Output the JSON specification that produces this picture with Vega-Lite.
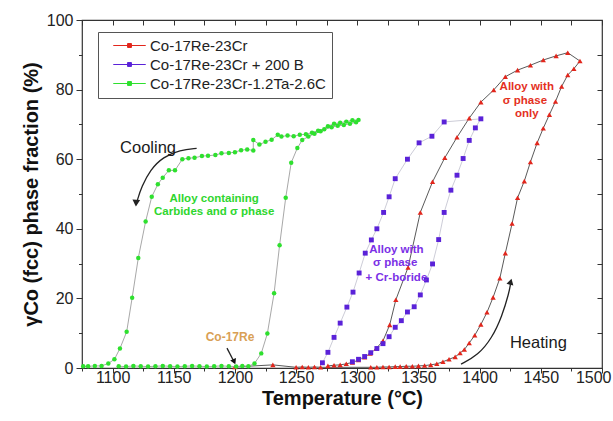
{
 "$schema": "https://vega.github.io/schema/vega-lite/v6.json",
 "width": 520, "height": 348,
 "autosize": {"type": "none"},
 "padding": {"left": 82, "top": 20, "right": 11, "bottom": 53},
 "background": "white",
 "config": {"view": {"stroke": "#333", "strokeWidth": 1.2}, "font": "Liberation Sans", "axis": {"grid": false}},
 "datasets": {
  "pts": [
   {"s":"Co-17Re-23Cr","o":1,"T":1200,"f":0.3},{"s":"Co-17Re-23Cr","o":2,"T":1231,"f":0.9},{"s":"Co-17Re-23Cr","o":3,"T":1250,"f":0.2},{"s":"Co-17Re-23Cr","o":4,"T":1255,"f":0.3},{"s":"Co-17Re-23Cr","o":5,"T":1260,"f":0.2},{"s":"Co-17Re-23Cr","o":6,"T":1265,"f":0.3},{"s":"Co-17Re-23Cr","o":7,"T":1270,"f":0.2},{"s":"Co-17Re-23Cr","o":8,"T":1311,"f":0.2},{"s":"Co-17Re-23Cr","o":9,"T":1316,"f":0.2},{"s":"Co-17Re-23Cr","o":10,"T":1321,"f":0.3},{"s":"Co-17Re-23Cr","o":11,"T":1326,"f":0.3},{"s":"Co-17Re-23Cr","o":12,"T":1331,"f":0.4},{"s":"Co-17Re-23Cr","o":13,"T":1335,"f":0.4},{"s":"Co-17Re-23Cr","o":14,"T":1340,"f":0.5},{"s":"Co-17Re-23Cr","o":15,"T":1345,"f":0.5},{"s":"Co-17Re-23Cr","o":16,"T":1350,"f":0.6},{"s":"Co-17Re-23Cr","o":17,"T":1355,"f":0.7},{"s":"Co-17Re-23Cr","o":18,"T":1360,"f":0.9},{"s":"Co-17Re-23Cr","o":19,"T":1365,"f":1.2},{"s":"Co-17Re-23Cr","o":20,"T":1370,"f":1.8},{"s":"Co-17Re-23Cr","o":21,"T":1375,"f":2.5},{"s":"Co-17Re-23Cr","o":22,"T":1380,"f":3.2},{"s":"Co-17Re-23Cr","o":23,"T":1384,"f":4.3},{"s":"Co-17Re-23Cr","o":24,"T":1387.5,"f":5.3},{"s":"Co-17Re-23Cr","o":25,"T":1391.5,"f":7.2},{"s":"Co-17Re-23Cr","o":26,"T":1396,"f":9.4},{"s":"Co-17Re-23Cr","o":27,"T":1401,"f":12.5},{"s":"Co-17Re-23Cr","o":28,"T":1406,"f":16},{"s":"Co-17Re-23Cr","o":29,"T":1411,"f":20.3},{"s":"Co-17Re-23Cr","o":30,"T":1416.5,"f":25.8},{"s":"Co-17Re-23Cr","o":31,"T":1421,"f":33},{"s":"Co-17Re-23Cr","o":32,"T":1426.5,"f":41.5},{"s":"Co-17Re-23Cr","o":33,"T":1431,"f":48.9},{"s":"Co-17Re-23Cr","o":34,"T":1436.5,"f":53.7},{"s":"Co-17Re-23Cr","o":35,"T":1441.5,"f":59.2},{"s":"Co-17Re-23Cr","o":36,"T":1447,"f":64.7},{"s":"Co-17Re-23Cr","o":37,"T":1452,"f":68.9},{"s":"Co-17Re-23Cr","o":38,"T":1457,"f":72.8},{"s":"Co-17Re-23Cr","o":39,"T":1462,"f":76.6},{"s":"Co-17Re-23Cr","o":40,"T":1467,"f":80.9},{"s":"Co-17Re-23Cr","o":41,"T":1472,"f":84.2},{"s":"Co-17Re-23Cr","o":42,"T":1477,"f":86},{"s":"Co-17Re-23Cr","o":43,"T":1482,"f":88.2},{"s":"Co-17Re-23Cr","o":44,"T":1472,"f":90.6},{"s":"Co-17Re-23Cr","o":45,"T":1462.5,"f":89.7},{"s":"Co-17Re-23Cr","o":46,"T":1452,"f":88.5},{"s":"Co-17Re-23Cr","o":47,"T":1441.5,"f":87},{"s":"Co-17Re-23Cr","o":48,"T":1431,"f":85.6},{"s":"Co-17Re-23Cr","o":49,"T":1421,"f":83.7},{"s":"Co-17Re-23Cr","o":50,"T":1411.5,"f":79.9},{"s":"Co-17Re-23Cr","o":51,"T":1401,"f":76.4},{"s":"Co-17Re-23Cr","o":52,"T":1391.5,"f":71.8},{"s":"Co-17Re-23Cr","o":53,"T":1381.5,"f":66.3},{"s":"Co-17Re-23Cr","o":54,"T":1371.5,"f":60.4},{"s":"Co-17Re-23Cr","o":55,"T":1361.5,"f":53.5},{"s":"Co-17Re-23Cr","o":56,"T":1351.5,"f":44.7},{"s":"Co-17Re-23Cr","o":57,"T":1341.5,"f":28.9},{"s":"Co-17Re-23Cr","o":58,"T":1331.5,"f":19.6},{"s":"Co-17Re-23Cr","o":59,"T":1326.5,"f":12.4},{"s":"Co-17Re-23Cr","o":60,"T":1321,"f":7.8},{"s":"Co-17Re-23Cr","o":61,"T":1315.5,"f":5.6},{"s":"Co-17Re-23Cr","o":62,"T":1310.5,"f":4.2},{"s":"Co-17Re-23Cr","o":63,"T":1306,"f":3.1},{"s":"Co-17Re-23Cr","o":64,"T":1301,"f":2.3},{"s":"Co-17Re-23Cr","o":65,"T":1296,"f":1.6},{"s":"Co-17Re-23Cr","o":66,"T":1291,"f":1.2},{"s":"Co-17Re-23Cr","o":67,"T":1286,"f":0.9},{"s":"Co-17Re-23Cr","o":68,"T":1281,"f":0.8},{"s":"Co-17Re-23Cr","o":69,"T":1276,"f":0.6},
   {"s":"Co-17Re-23Cr + 200 B","o":1,"T":1296,"f":1.8},{"s":"Co-17Re-23Cr + 200 B","o":2,"T":1301,"f":2.5},{"s":"Co-17Re-23Cr + 200 B","o":3,"T":1306,"f":3.3},{"s":"Co-17Re-23Cr + 200 B","o":4,"T":1311,"f":4.4},{"s":"Co-17Re-23Cr + 200 B","o":5,"T":1316,"f":5.6},{"s":"Co-17Re-23Cr + 200 B","o":6,"T":1321,"f":7},{"s":"Co-17Re-23Cr + 200 B","o":7,"T":1326,"f":9},{"s":"Co-17Re-23Cr + 200 B","o":8,"T":1331,"f":11.7},{"s":"Co-17Re-23Cr + 200 B","o":9,"T":1336,"f":13.6},{"s":"Co-17Re-23Cr + 200 B","o":10,"T":1341,"f":16.1},{"s":"Co-17Re-23Cr + 200 B","o":11,"T":1346.5,"f":17.6},{"s":"Co-17Re-23Cr + 200 B","o":12,"T":1351.5,"f":21},{"s":"Co-17Re-23Cr + 200 B","o":13,"T":1356.5,"f":25.3},{"s":"Co-17Re-23Cr + 200 B","o":14,"T":1361.5,"f":29.9},{"s":"Co-17Re-23Cr + 200 B","o":15,"T":1366.5,"f":36.9},{"s":"Co-17Re-23Cr + 200 B","o":16,"T":1371,"f":44.7},{"s":"Co-17Re-23Cr + 200 B","o":17,"T":1376.5,"f":51.1},{"s":"Co-17Re-23Cr + 200 B","o":18,"T":1381.5,"f":55.4},{"s":"Co-17Re-23Cr + 200 B","o":19,"T":1386.5,"f":60.2},{"s":"Co-17Re-23Cr + 200 B","o":20,"T":1391.5,"f":65.4},{"s":"Co-17Re-23Cr + 200 B","o":21,"T":1396.5,"f":69},{"s":"Co-17Re-23Cr + 200 B","o":22,"T":1401,"f":71.6},{"s":"Co-17Re-23Cr + 200 B","o":23,"T":1371,"f":70.7},{"s":"Co-17Re-23Cr + 200 B","o":24,"T":1361,"f":66.6},{"s":"Co-17Re-23Cr + 200 B","o":25,"T":1350.5,"f":64.7},{"s":"Co-17Re-23Cr + 200 B","o":26,"T":1341,"f":60},{"s":"Co-17Re-23Cr + 200 B","o":27,"T":1331,"f":54.4},{"s":"Co-17Re-23Cr + 200 B","o":28,"T":1326,"f":49.2},{"s":"Co-17Re-23Cr + 200 B","o":29,"T":1321.5,"f":44.7},{"s":"Co-17Re-23Cr + 200 B","o":30,"T":1316,"f":40},{"s":"Co-17Re-23Cr + 200 B","o":31,"T":1311.5,"f":36.8},{"s":"Co-17Re-23Cr + 200 B","o":32,"T":1306.5,"f":33},{"s":"Co-17Re-23Cr + 200 B","o":33,"T":1301.5,"f":27.3},{"s":"Co-17Re-23Cr + 200 B","o":34,"T":1296.5,"f":21.8},{"s":"Co-17Re-23Cr + 200 B","o":35,"T":1291.5,"f":17.5},{"s":"Co-17Re-23Cr + 200 B","o":36,"T":1286,"f":12.9},{"s":"Co-17Re-23Cr + 200 B","o":37,"T":1281,"f":8.8},{"s":"Co-17Re-23Cr + 200 B","o":38,"T":1276,"f":4.5},{"s":"Co-17Re-23Cr + 200 B","o":39,"T":1271.5,"f":1.5},
   {"s":"Co-17Re-23Cr-1.2Ta-2.6C","o":1,"T":1105,"f":0.5},{"s":"Co-17Re-23Cr-1.2Ta-2.6C","o":2,"T":1111,"f":0.4},{"s":"Co-17Re-23Cr-1.2Ta-2.6C","o":3,"T":1117,"f":0.6},{"s":"Co-17Re-23Cr-1.2Ta-2.6C","o":4,"T":1123,"f":0.5},{"s":"Co-17Re-23Cr-1.2Ta-2.6C","o":5,"T":1129,"f":0.4},{"s":"Co-17Re-23Cr-1.2Ta-2.6C","o":6,"T":1135,"f":0.5},{"s":"Co-17Re-23Cr-1.2Ta-2.6C","o":7,"T":1141,"f":0.6},{"s":"Co-17Re-23Cr-1.2Ta-2.6C","o":8,"T":1147,"f":0.5},{"s":"Co-17Re-23Cr-1.2Ta-2.6C","o":9,"T":1153,"f":0.4},{"s":"Co-17Re-23Cr-1.2Ta-2.6C","o":10,"T":1159,"f":0.5},{"s":"Co-17Re-23Cr-1.2Ta-2.6C","o":11,"T":1165,"f":0.6},{"s":"Co-17Re-23Cr-1.2Ta-2.6C","o":12,"T":1171,"f":0.5},{"s":"Co-17Re-23Cr-1.2Ta-2.6C","o":13,"T":1177,"f":0.4},{"s":"Co-17Re-23Cr-1.2Ta-2.6C","o":14,"T":1183,"f":0.5},{"s":"Co-17Re-23Cr-1.2Ta-2.6C","o":15,"T":1189,"f":0.6},{"s":"Co-17Re-23Cr-1.2Ta-2.6C","o":16,"T":1195,"f":0.5},{"s":"Co-17Re-23Cr-1.2Ta-2.6C","o":17,"T":1201,"f":0.4},{"s":"Co-17Re-23Cr-1.2Ta-2.6C","o":18,"T":1206,"f":0.6},{"s":"Co-17Re-23Cr-1.2Ta-2.6C","o":19,"T":1211,"f":0.5},{"s":"Co-17Re-23Cr-1.2Ta-2.6C","o":20,"T":1216,"f":1.3},{"s":"Co-17Re-23Cr-1.2Ta-2.6C","o":21,"T":1221.5,"f":4.2},{"s":"Co-17Re-23Cr-1.2Ta-2.6C","o":22,"T":1226.5,"f":9.9},{"s":"Co-17Re-23Cr-1.2Ta-2.6C","o":23,"T":1232,"f":21.5},{"s":"Co-17Re-23Cr-1.2Ta-2.6C","o":24,"T":1236.5,"f":35.3},{"s":"Co-17Re-23Cr-1.2Ta-2.6C","o":25,"T":1241.5,"f":48.9},{"s":"Co-17Re-23Cr-1.2Ta-2.6C","o":26,"T":1246,"f":59},{"s":"Co-17Re-23Cr-1.2Ta-2.6C","o":27,"T":1251,"f":63.2},{"s":"Co-17Re-23Cr-1.2Ta-2.6C","o":28,"T":1255,"f":65.5},{"s":"Co-17Re-23Cr-1.2Ta-2.6C","o":29,"T":1260,"f":66.5},{"s":"Co-17Re-23Cr-1.2Ta-2.6C","o":30,"T":1265,"f":67.3},{"s":"Co-17Re-23Cr-1.2Ta-2.6C","o":31,"T":1270,"f":68},{"s":"Co-17Re-23Cr-1.2Ta-2.6C","o":32,"T":1276,"f":69.5},{"s":"Co-17Re-23Cr-1.2Ta-2.6C","o":33,"T":1281,"f":70.2},{"s":"Co-17Re-23Cr-1.2Ta-2.6C","o":34,"T":1286,"f":70.5},{"s":"Co-17Re-23Cr-1.2Ta-2.6C","o":35,"T":1291,"f":70.8},{"s":"Co-17Re-23Cr-1.2Ta-2.6C","o":36,"T":1296,"f":71.2},{"s":"Co-17Re-23Cr-1.2Ta-2.6C","o":37,"T":1301,"f":71.3},{"s":"Co-17Re-23Cr-1.2Ta-2.6C","o":38,"T":1299,"f":70.6},{"s":"Co-17Re-23Cr-1.2Ta-2.6C","o":39,"T":1294,"f":70.2},{"s":"Co-17Re-23Cr-1.2Ta-2.6C","o":40,"T":1289,"f":69.8},{"s":"Co-17Re-23Cr-1.2Ta-2.6C","o":41,"T":1284,"f":69.6},{"s":"Co-17Re-23Cr-1.2Ta-2.6C","o":42,"T":1279,"f":69.2},{"s":"Co-17Re-23Cr-1.2Ta-2.6C","o":43,"T":1273,"f":68.6},{"s":"Co-17Re-23Cr-1.2Ta-2.6C","o":44,"T":1268,"f":68.2},{"s":"Co-17Re-23Cr-1.2Ta-2.6C","o":45,"T":1263,"f":67.6},{"s":"Co-17Re-23Cr-1.2Ta-2.6C","o":46,"T":1258,"f":67.2},{"s":"Co-17Re-23Cr-1.2Ta-2.6C","o":47,"T":1253,"f":67},{"s":"Co-17Re-23Cr-1.2Ta-2.6C","o":48,"T":1248,"f":66.6},{"s":"Co-17Re-23Cr-1.2Ta-2.6C","o":49,"T":1243,"f":66.8},{"s":"Co-17Re-23Cr-1.2Ta-2.6C","o":50,"T":1238,"f":66.5},{"s":"Co-17Re-23Cr-1.2Ta-2.6C","o":51,"T":1235,"f":67},{"s":"Co-17Re-23Cr-1.2Ta-2.6C","o":52,"T":1230,"f":65.6},{"s":"Co-17Re-23Cr-1.2Ta-2.6C","o":53,"T":1225,"f":65},{"s":"Co-17Re-23Cr-1.2Ta-2.6C","o":54,"T":1220,"f":64.2},{"s":"Co-17Re-23Cr-1.2Ta-2.6C","o":55,"T":1215,"f":65.5},{"s":"Co-17Re-23Cr-1.2Ta-2.6C","o":56,"T":1215,"f":62.5},{"s":"Co-17Re-23Cr-1.2Ta-2.6C","o":57,"T":1210,"f":62.8},{"s":"Co-17Re-23Cr-1.2Ta-2.6C","o":58,"T":1205,"f":62.6},{"s":"Co-17Re-23Cr-1.2Ta-2.6C","o":59,"T":1200,"f":62},{"s":"Co-17Re-23Cr-1.2Ta-2.6C","o":60,"T":1195,"f":61.8},{"s":"Co-17Re-23Cr-1.2Ta-2.6C","o":61,"T":1189,"f":61.7},{"s":"Co-17Re-23Cr-1.2Ta-2.6C","o":62,"T":1184,"f":61.2},{"s":"Co-17Re-23Cr-1.2Ta-2.6C","o":63,"T":1178,"f":61},{"s":"Co-17Re-23Cr-1.2Ta-2.6C","o":64,"T":1173,"f":60.9},{"s":"Co-17Re-23Cr-1.2Ta-2.6C","o":65,"T":1167,"f":60.4},{"s":"Co-17Re-23Cr-1.2Ta-2.6C","o":66,"T":1162,"f":60.3},{"s":"Co-17Re-23Cr-1.2Ta-2.6C","o":67,"T":1157,"f":60},{"s":"Co-17Re-23Cr-1.2Ta-2.6C","o":68,"T":1151,"f":56.8},{"s":"Co-17Re-23Cr-1.2Ta-2.6C","o":69,"T":1146,"f":56.8},{"s":"Co-17Re-23Cr-1.2Ta-2.6C","o":70,"T":1141,"f":54.7},{"s":"Co-17Re-23Cr-1.2Ta-2.6C","o":71,"T":1137,"f":52.8},{"s":"Co-17Re-23Cr-1.2Ta-2.6C","o":72,"T":1132,"f":49.2},{"s":"Co-17Re-23Cr-1.2Ta-2.6C","o":73,"T":1127,"f":42.1},{"s":"Co-17Re-23Cr-1.2Ta-2.6C","o":74,"T":1121,"f":31.6},{"s":"Co-17Re-23Cr-1.2Ta-2.6C","o":75,"T":1116,"f":20.2},{"s":"Co-17Re-23Cr-1.2Ta-2.6C","o":76,"T":1111.5,"f":10.4},{"s":"Co-17Re-23Cr-1.2Ta-2.6C","o":77,"T":1106,"f":5.6},{"s":"Co-17Re-23Cr-1.2Ta-2.6C","o":78,"T":1101.5,"f":2.5},{"s":"Co-17Re-23Cr-1.2Ta-2.6C","o":79,"T":1096.5,"f":1.3},{"s":"Co-17Re-23Cr-1.2Ta-2.6C","o":80,"T":1091,"f":0.6},{"s":"Co-17Re-23Cr-1.2Ta-2.6C","o":81,"T":1085.5,"f":0.6},{"s":"Co-17Re-23Cr-1.2Ta-2.6C","o":82,"T":1080,"f":0.5},{"s":"Co-17Re-23Cr-1.2Ta-2.6C","o":83,"T":1076,"f":0.5}
  ],
  "arrows": [
   {"a":"cool","o":1,"T":1168.7,"f":63.1},{"a":"cool","o":2,"T":1155.1,"f":62.6},{"a":"cool","o":3,"T":1141.4,"f":60.7},{"a":"cool","o":4,"T":1130.6,"f":56.9},{"a":"cool","o":5,"T":1123.8,"f":52.1},{"a":"cool","o":6,"T":1120.2,"f":48.3},{"a":"cool","o":7,"T":1119.3,"f":46.8},
   {"a":"heat","o":1,"T":1384.8,"f":1.1},{"a":"heat","o":2,"T":1398.7,"f":3.7},{"a":"heat","o":3,"T":1410.1,"f":8.6},{"a":"heat","o":4,"T":1418.3,"f":14.9},{"a":"heat","o":5,"T":1424,"f":21.6},{"a":"heat","o":6,"T":1425.2,"f":24.1},
   {"a":"re","o":1,"T":1193.5,"f":5.7},{"a":"re","o":2,"T":1199.6,"f":1.6}
  ],
  "labels": [
   {"g":"k","t":"Cooling","T":1129,"f":63.2},{"g":"k","t":"Heating","T":1448,"f":7.1},
   {"g":"g","t":"Alloy containing","T":1183,"f":48.6},{"g":"g","t":"Carbides and σ phase","T":1183,"f":44.7},
   {"g":"p","t":"Alloy with","T":1332,"f":33.9},{"g":"p","t":"σ phase","T":1331,"f":30.1},{"g":"p","t":"+ Cr-boride","T":1332,"f":25.8},
   {"g":"r","t":"Alloy with","T":1438.5,"f":80.7},{"g":"r","t":"σ phase","T":1437,"f":76.8},{"g":"r","t":"only","T":1438.5,"f":73},
   {"g":"o","t":"Co-17Re","T":1196,"f":8.9}
  ]
 },
 "data": {"name": "pts"},
 "layer": [
  {
   "mark": {"type": "line", "strokeWidth": 1, "interpolate": "linear"},
   "encoding": {
    "x": {"field": "T", "type": "quantitative", "scale": {"domain": [1075, 1500], "nice": false, "zero": false}, "axis": null},
    "y": {"field": "f", "type": "quantitative", "scale": {"domain": [0, 100], "nice": false, "zero": false}, "axis": null},
    "stroke": {"field": "s", "type": "nominal", "scale": {"range": ["#5a5a5a", "#cdcdd8", "#a8a8a8"]}, "legend": null},
    "order": {"field": "o", "type": "quantitative"}
   }
  },
  {
   "data": {"name": "arrows"},
   "mark": {"type": "line", "stroke": "#222", "strokeWidth": 1.3, "interpolate": "basis"},
   "encoding": {
    "x": {"field": "T", "type": "quantitative", "scale": {"domain": [1075, 1500], "nice": false, "zero": false}, "axis": null},
    "y": {"field": "f", "type": "quantitative", "scale": {"domain": [0, 100], "nice": false, "zero": false}, "axis": null},
    "detail": {"field": "a", "type": "nominal"},
    "order": {"field": "o", "type": "quantitative"}
   }
  },
  {
   "data": {"values": [{"T": 1119.2, "f": 47.4}]},
   "mark": {"type": "point", "shape": "triangle-down", "filled": true, "color": "#222", "opacity": 1, "size": 60, "angle": 4},
   "encoding": {
    "x": {"field": "T", "type": "quantitative", "scale": {"domain": [1075, 1500], "nice": false, "zero": false}, "axis": null},
    "y": {"field": "f", "type": "quantitative", "scale": {"domain": [0, 100], "nice": false, "zero": false}, "axis": null}
   }
  },
  {
   "data": {"values": [{"T": 1425.4, "f": 24.8}]},
   "mark": {"type": "point", "shape": "triangle-up", "filled": true, "color": "#222", "opacity": 1, "size": 50, "angle": 15},
   "encoding": {
    "x": {"field": "T", "type": "quantitative", "scale": {"domain": [1075, 1500], "nice": false, "zero": false}, "axis": null},
    "y": {"field": "f", "type": "quantitative", "scale": {"domain": [0, 100], "nice": false, "zero": false}, "axis": null}
   }
  },
  {
   "data": {"values": [{"T": 1199.4, "f": 1.8}]},
   "mark": {"type": "point", "shape": "triangle-down", "filled": true, "color": "#111", "opacity": 1, "size": 40, "angle": 336},
   "encoding": {
    "x": {"field": "T", "type": "quantitative", "scale": {"domain": [1075, 1500], "nice": false, "zero": false}, "axis": null},
    "y": {"field": "f", "type": "quantitative", "scale": {"domain": [0, 100], "nice": false, "zero": false}, "axis": null}
   }
  },
  {
   "mark": {"type": "point", "filled": true, "opacity": 1},
   "encoding": {
    "x": {"field": "T", "type": "quantitative", "scale": {"domain": [1075, 1500], "nice": false, "zero": false},
     "axis": {"orient": "bottom", "values": [1100, 1150, 1200, 1250, 1300, 1350, 1400, 1450, 1500], "format": "d", "title": "Temperature (°C)", "titleFont": "Liberation Sans", "titleFontSize": 20, "titleFontWeight": "bold", "titleColor": "#111", "titlePadding": 3, "labelFont": "Liberation Sans", "labelFontSize": 16, "labelColor": "#222", "labelPadding": -4, "labelFlush": 1, "labelFlushOffset": 9, "tickSize": 5, "tickColor": "#333", "domain": false, "grid": false}},
    "y": {"field": "f", "type": "quantitative", "scale": {"domain": [0, 100], "nice": false, "zero": false},
     "axis": {"orient": "left", "values": [0, 20, 40, 60, 80, 100], "format": "d", "title": "γCo (fcc) phase fraction (%)", "titleFont": "Liberation Sans", "titleFontSize": 20, "titleFontWeight": "bold", "titleColor": "#111", "titlePadding": 5, "labelFont": "Liberation Sans", "labelFontSize": 16, "labelColor": "#222", "labelPadding": 3, "labelFlush": false, "tickSize": 6, "tickColor": "#333", "domain": false, "grid": false}},
    "color": {"field": "s", "type": "nominal", "scale": {"domain": ["Co-17Re-23Cr", "Co-17Re-23Cr + 200 B", "Co-17Re-23Cr-1.2Ta-2.6C"], "range": ["#e2261c", "#5a22d8", "#2ee02e"]},
     "legend": {"title": null, "orient": "none", "legendX": 16, "legendY": 12, "strokeColor": "#555", "fillColor": "white", "padding": 6, "symbolOffset": 18, "symbolType": "M-2.5,0H2.5M-0.3,-0.3H0.3V0.3H-0.3Z", "symbolSize": 169, "symbolStrokeWidth": 1, "symbolStrokeColor": {"expr": "scale('color', datum.value)"}, "labelFont": "Liberation Sans", "labelFontSize": 15, "labelColor": "#222", "labelOffset": 13, "labelLimit": 400, "rowPadding": 3,
      "encode": {"symbols": {"strokeOpacity": {"value": 0.6}, "strokeWidth": {"value": 1}}}}},
    "shape": {"field": "s", "type": "nominal", "scale": {"range": ["triangle-up", "square", "circle"]}, "legend": null},
    "size": {"field": "s", "type": "nominal", "scale": {"range": [28, 20, 28]}, "legend": null}
   }
  },
  {
   "mark": {"type": "point", "opacity": 0},
   "encoding": {
    "x": {"field": "T", "type": "quantitative", "scale": {"domain": [1075, 1500], "nice": false, "zero": false},
     "axis": {"orient": "bottom", "values": [1075, 1125, 1175, 1225, 1275, 1325, 1375, 1425, 1475], "labels": false, "tickSize": 3, "tickColor": "#333", "domain": false, "grid": false, "title": null}},
    "y": {"field": "f", "type": "quantitative", "scale": {"domain": [0, 100], "nice": false, "zero": false},
     "axis": {"orient": "left", "values": [10, 30, 50, 70, 90], "labels": false, "tickSize": 3.5, "tickColor": "#333", "domain": false, "grid": false, "title": null}}
   }
  },
  {
   "mark": {"type": "point", "opacity": 0},
   "encoding": {
    "x": {"field": "T", "type": "quantitative", "scale": {"domain": [1075, 1500], "nice": false, "zero": false},
     "axis": {"orient": "top", "values": [1075, 1100, 1125, 1150, 1175, 1200, 1225, 1250, 1275, 1300, 1325, 1350, 1375, 1400, 1425, 1450, 1475, 1500], "labels": false, "tickSize": 5, "offset": -5, "tickColor": "#333", "domain": false, "grid": false, "title": null}},
    "y": {"field": "f", "type": "quantitative", "scale": {"domain": [0, 100], "nice": false, "zero": false},
     "axis": {"orient": "right", "values": [0, 10, 20, 30, 40, 50, 60, 70, 80, 90, 100], "labels": false, "tickSize": 5, "offset": -5, "tickColor": "#333", "domain": false, "grid": false, "title": null}}
   }
  },
  {
   "data": {"name": "labels"},
   "transform": [{"filter": "datum.g == 'k'"}],
   "mark": {"type": "text", "font": "Liberation Sans", "fontSize": 16.5, "color": "#1a1a1a", "align": "center", "baseline": "middle"},
   "encoding": {
    "x": {"field": "T", "type": "quantitative", "scale": {"domain": [1075, 1500], "nice": false, "zero": false}, "axis": null},
    "y": {"field": "f", "type": "quantitative", "scale": {"domain": [0, 100], "nice": false, "zero": false}, "axis": null},
    "text": {"field": "t"}
   }
  },
  {
   "data": {"name": "labels"},
   "transform": [{"filter": "datum.g == 'g'"}],
   "mark": {"type": "text", "font": "Liberation Sans", "fontSize": 11.5, "fontWeight": "bold", "color": "#2fd62f", "align": "center", "baseline": "middle"},
   "encoding": {
    "x": {"field": "T", "type": "quantitative", "scale": {"domain": [1075, 1500], "nice": false, "zero": false}, "axis": null},
    "y": {"field": "f", "type": "quantitative", "scale": {"domain": [0, 100], "nice": false, "zero": false}, "axis": null},
    "text": {"field": "t"}
   }
  },
  {
   "data": {"name": "labels"},
   "transform": [{"filter": "datum.g == 'p'"}],
   "mark": {"type": "text", "font": "Liberation Sans", "fontSize": 11.5, "fontWeight": "bold", "color": "#7b30e6", "align": "center", "baseline": "middle"},
   "encoding": {
    "x": {"field": "T", "type": "quantitative", "scale": {"domain": [1075, 1500], "nice": false, "zero": false}, "axis": null},
    "y": {"field": "f", "type": "quantitative", "scale": {"domain": [0, 100], "nice": false, "zero": false}, "axis": null},
    "text": {"field": "t"}
   }
  },
  {
   "data": {"name": "labels"},
   "transform": [{"filter": "datum.g == 'r'"}],
   "mark": {"type": "text", "font": "Liberation Sans", "fontSize": 11.5, "fontWeight": "bold", "color": "#e4301e", "align": "center", "baseline": "middle"},
   "encoding": {
    "x": {"field": "T", "type": "quantitative", "scale": {"domain": [1075, 1500], "nice": false, "zero": false}, "axis": null},
    "y": {"field": "f", "type": "quantitative", "scale": {"domain": [0, 100], "nice": false, "zero": false}, "axis": null},
    "text": {"field": "t"}
   }
  },
  {
   "data": {"name": "labels"},
   "transform": [{"filter": "datum.g == 'o'"}],
   "mark": {"type": "text", "font": "Liberation Sans", "fontSize": 12, "fontWeight": "bold", "color": "#d9a055", "align": "center", "baseline": "middle"},
   "encoding": {
    "x": {"field": "T", "type": "quantitative", "scale": {"domain": [1075, 1500], "nice": false, "zero": false}, "axis": null},
    "y": {"field": "f", "type": "quantitative", "scale": {"domain": [0, 100], "nice": false, "zero": false}, "axis": null},
    "text": {"field": "t"}
   }
  }
 ],
 "resolve": {"axis": {"x": "independent", "y": "independent"}}
}
